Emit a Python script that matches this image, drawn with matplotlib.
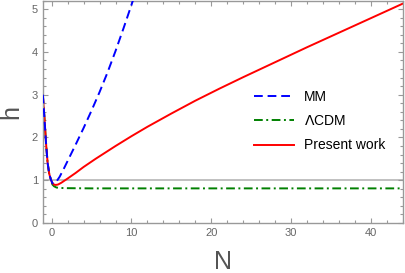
"""Hubble-rate h(N) comparison: MM, LambdaCDM and present work."""

import matplotlib

matplotlib.use("Agg")
import matplotlib.pyplot as plt
from matplotlib.ticker import MultipleLocator

# shared early-time branch (all three models overlap here)
n_early = [-1.1, -0.9, -0.7, -0.5, -0.3, -0.1]
h_early = [3.0, 2.45, 1.86, 1.40, 1.15, 1.02]

n_mm = n_early + [0.1, 0.3, 0.6, 1.0, 1.5, 2, 3, 4, 5, 6, 7, 8, 9, 10, 10.5]
h_mm = h_early + [0.93, 0.92, 0.97, 1.08, 1.26, 1.45, 1.83, 2.22, 2.63, 3.06, 3.52, 4.02, 4.55, 5.1, 5.38]

n_lcdm = n_early + [0.1, 0.3, 0.6, 1.0, 2, 5, 10, 20, 30, 44]
h_lcdm = h_early + [0.9, 0.86, 0.83, 0.82, 0.815, 0.81, 0.81, 0.81, 0.81, 0.81]

n_pw = n_early + [0.1, 0.3, 0.5, 0.8, 1.2, 2, 3, 4, 5.5, 8, 10, 12, 15, 18, 21, 24, 28, 32, 36, 40, 44]
h_pw = h_early + [0.93, 0.9, 0.89, 0.9, 0.94, 1.04, 1.17, 1.31, 1.50, 1.80, 2.03, 2.25, 2.56,
                  2.86, 3.14, 3.41, 3.76, 4.11, 4.45, 4.79, 5.13]

h_ref = 1.0

plt.rcParams["font.family"] = ["Liberation Sans", "DejaVu Sans"]

fig = plt.figure(figsize=(4.05, 2.73), dpi=100)
ax = fig.add_axes([0.106, 0.183, 0.889, 0.815])

ax.axhline(h_ref, color="#bbbbbb", lw=1.3, zorder=1)
ax.plot(n_mm, h_mm, color="blue", lw=1.4, ls=(0, (4.5, 2.5)), label="MM", zorder=3)
ax.plot(n_lcdm, h_lcdm, color="#008000", lw=1.4, ls=(0, (4.5, 1.8, 1.0, 1.8)),
        label=r"$\Lambda$CDM", zorder=2)
ax.plot(n_pw, h_pw, color="red", lw=1.4, label="Present work", zorder=2)

ax.set_xlim(-1.09, 44)
ax.set_ylim(0, 5.2)

gray = "#999999"
for side in ax.spines.values():
    side.set_color(gray)
    side.set_linewidth(1.0)
ax.xaxis.set_major_locator(MultipleLocator(10))
ax.xaxis.set_minor_locator(MultipleLocator(2))
ax.yaxis.set_major_locator(MultipleLocator(1))
ax.yaxis.set_minor_locator(MultipleLocator(0.2))
ax.tick_params(which="both", direction="in", top=True, right=True, color=gray,
               labelcolor="#666666", labelsize=8, width=0.8)
ax.tick_params(which="major", length=3.5)
ax.tick_params(which="minor", length=2)

ax.set_xlabel("N", fontsize=18, color="#555555", labelpad=9)
ax.set_ylabel("h", fontsize=18, color="#555555", labelpad=6)

ax.legend(loc="upper left", bbox_to_anchor=(0.585, 0.6), frameon=False, fontsize=10,
          handlelength=2.9, handletextpad=0.7, labelspacing=0.75, borderpad=0,
          borderaxespad=0)

fig.savefig("out.png", dpi=100)
